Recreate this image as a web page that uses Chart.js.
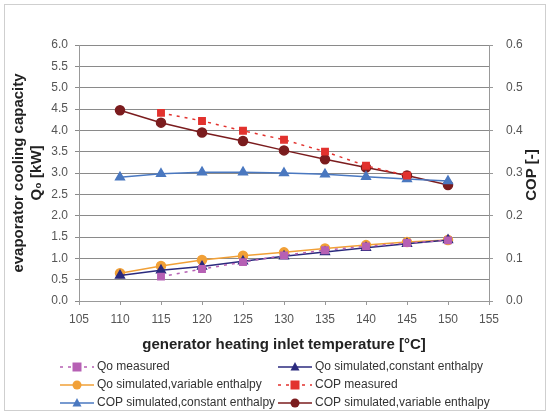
<!DOCTYPE html>
<html lang="en">
<head>
  <meta charset="UTF-8">
  <title>Generator temperature chart</title>
  <style>
    html, body { margin: 0; padding: 0; background: #fff; }
    #wrap { position: relative; width: 552px; height: 414px; }
    #frame { position: absolute; left: 4px; top: 4px; width: 542px; height: 407px; border: 1px solid #cfcfcf; box-sizing: border-box; pointer-events: none; }
    canvas#chartCanvas { display: block; }
  </style>
  <script src="https://cdn.jsdelivr.net/npm/chart.js"></script>
</head>
<body>
  <div id="wrap">
    <canvas id="chartCanvas" width="552" height="414"></canvas>
    <div id="frame"></div>
  </div>

  <script>
    // generator heating inlet temperature [°C]
    const temps = [110, 115, 120, 125, 130, 135, 140, 145, 150];

    // Q0 [kW]
    const qoMeasured = [null, 0.57, 0.75, 0.91, 1.07, 1.19, 1.28, 1.36, 1.42];
    const qoSimConst = [0.60, 0.72, 0.81, 0.93, 1.05, 1.15, 1.25, 1.34, 1.43];
    const qoSimVar = [0.65, 0.82, 0.96, 1.06, 1.14, 1.23, 1.31, 1.38, 1.43];

    // COP [-]
    const copMeasured = [null, 0.441, 0.422, 0.399, 0.378, 0.350, 0.317, 0.294, null];
    const copSimConst = [0.290, 0.298, 0.302, 0.302, 0.300, 0.297, 0.291, 0.286, 0.281];
    const copSimVar = [0.447, 0.418, 0.395, 0.375, 0.353, 0.332, 0.313, 0.294, 0.272];

    const xTitle = "generator heating inlet temperature [°C]";
    const yTitle = ["evaporator cooling capacity", "Q₀ [kW]"];
    const y2Title = "COP [-]";

    const pts = arr => temps.map((t, i) => ({ x: t, y: arr[i] }));

    const legendRows = [
      [0, 1],
      [2, 3],
      [4, 5]
    ];

    const FONT = "'Liberation Sans', Arial, sans-serif";

    // axis titles + two column legend, drawn by hand
    const extrasPlugin = {
      id: "extras",
      afterDraw(chart) {
        const ctx = chart.ctx;
        const area = chart.chartArea;
        const midY = (area.top + area.bottom) / 2;
        ctx.save();
        ctx.fillStyle = "#222";
        ctx.font = "bold 15px " + FONT;
        ctx.textAlign = "center";
        ctx.textBaseline = "middle";
        ctx.fillText(xTitle, (area.left + area.right) / 2, 345);

        ctx.save();
        ctx.translate(19, midY);
        ctx.rotate(-Math.PI / 2);
        ctx.fillText(yTitle[0], 0, 0);
        ctx.restore();
        ctx.save();
        ctx.translate(37, midY);
        ctx.rotate(-Math.PI / 2);
        ctx.fillText(yTitle[1], 0, 0);
        ctx.restore();
        ctx.save();
        ctx.translate(532, midY + 2);
        ctx.rotate(-Math.PI / 2);
        ctx.fillText(y2Title, 0, 0);
        ctx.restore();

        const colX = [60, 278];
        const rowY = [367, 385, 403];
        ctx.font = "12px " + FONT;
        ctx.textAlign = "left";
        legendRows.forEach((row, r) => {
          row.forEach((di, c) => {
            const ds = chart.data.datasets[di];
            const x = colX[c], y = rowY[r];
            ctx.strokeStyle = ds.borderColor;
            ctx.lineWidth = 1.5;
            ctx.setLineDash(ds.borderDash || []);
            ctx.beginPath();
            ctx.moveTo(x, y);
            ctx.lineTo(x + 34, y);
            ctx.stroke();
            ctx.setLineDash([]);
            ctx.fillStyle = ds.pointBackgroundColor;
            const mx = x + 17, rad = 4.5;
            ctx.beginPath();
            if (ds.pointStyle === "rect") {
              ctx.rect(mx - rad, y - rad, rad * 2, rad * 2);
            } else if (ds.pointStyle === "triangle") {
              ctx.moveTo(mx, y - rad - 0.5);
              ctx.lineTo(mx + rad, y + rad - 1);
              ctx.lineTo(mx - rad, y + rad - 1);
              ctx.closePath();
            } else {
              ctx.arc(mx, y, rad, 0, Math.PI * 2);
            }
            ctx.fill();
            ctx.fillStyle = "#333";
            ctx.fillText(ds.label, x + 37, y);
          });
        });
        ctx.restore();
      }
    };

    function line(label, data, color, style, axis, dash) {
      return {
        label: label,
        data: pts(data),
        yAxisID: axis,
        borderColor: color,
        backgroundColor: color,
        pointBackgroundColor: color,
        pointBorderColor: color,
        pointStyle: style,
        pointRadius: style === "triangle" ? 5 : 4.5,
        borderWidth: 1.5,
        borderDash: dash,
        spanGaps: false
      };
    }

    const font = { family: FONT, size: 12 };

    new Chart(document.getElementById("chartCanvas"), {
      type: "line",
      data: {
        datasets: [
          line("Qo measured", qoMeasured, "#b660b4", "rect", "y", [3, 5]),
          line("Qo simulated,constant enthalpy", qoSimConst, "#2b2a7e", "triangle", "y", []),
          line("Qo simulated,variable enthalpy", qoSimVar, "#f1a037", "circle", "y", []),
          line("COP measured", copMeasured, "#e2322e", "rect", "y2", [3, 5]),
          line("COP simulated,constant enthalpy", copSimConst, "#4a78c0", "triangle", "y2", []),
          line("COP simulated,variable enthalpy", copSimVar, "#7b1c1e", "circle", "y2", [])
        ]
      },
      options: {
        responsive: false,
        animation: false,
        layout: { padding: { top: 45, bottom: 68, left: 0, right: 0 } },
        plugins: {
          legend: { display: false },
          tooltip: { enabled: false }
        },
        scales: {
          x: {
            type: "linear",
            min: 105,
            max: 155,
            ticks: { stepSize: 5, color: "#555", font: font, padding: 7 },
            grid: { display: true, drawOnChartArea: false, drawTicks: true, tickLength: 4, color: "#999" },
            border: { color: "#999" },
            afterFit: s => { s.height = 45; }
          },
          y: {
            position: "left",
            min: 0,
            max: 6,
            ticks: { stepSize: 0.5, color: "#555", font: font, padding: 7, callback: v => v.toFixed(1) },
            grid: { color: "#8a8a8a", tickLength: 4 },
            border: { color: "#999" },
            afterFit: s => { s.width = 79; }
          },
          y2: {
            position: "right",
            min: 0,
            max: 0.6,
            ticks: { stepSize: 0.1, color: "#555", font: font, padding: 13, callback: v => v.toFixed(1) },
            grid: { drawOnChartArea: false, tickLength: 4, color: "#999" },
            border: { color: "#999" },
            afterFit: s => { s.width = 63; }
          }
        }
      },
      plugins: [extrasPlugin]
    });
  </script>
</body>
</html>
